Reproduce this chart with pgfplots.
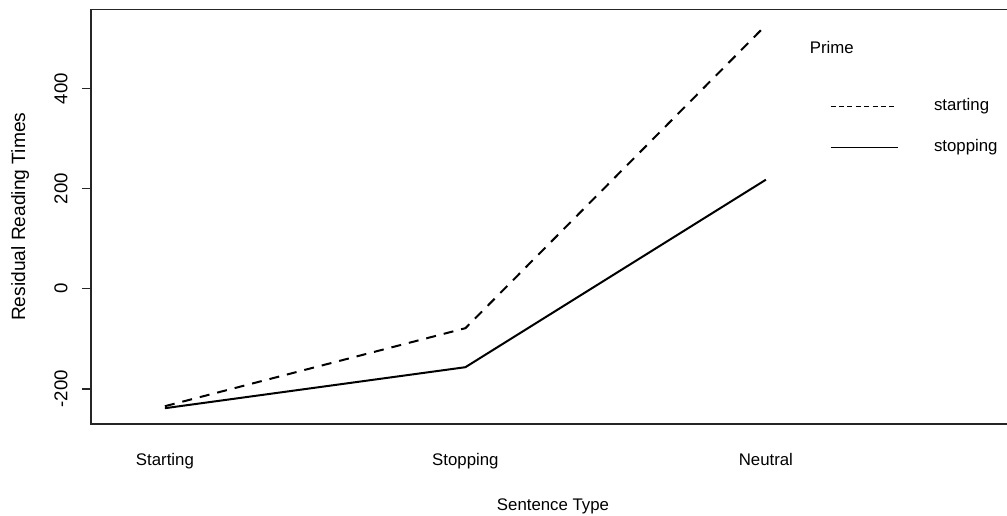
\documentclass[border=0pt]{standalone}
\usepackage{pgfplots}
\pgfplotsset{compat=1.18}
\usepackage{fontspec}
\setmainfont{Liberation Sans}
\begin{document}
\begin{tikzpicture}
\path[use as bounding box] (-45.5bp,-46bp) rectangle (458bp,212bp);
\begin{axis}[
  at={(0,0)}, anchor=south west,
  scale only axis, width=462bp, height=207.25bp,
  xmin=0.754, xmax=3.829, ymin=-270.6, ymax=558.4,
  axis line style={line width=0.8bp, black!85},
  xtick={1,2,3}, xticklabels={Starting,Stopping,Neutral},
  ytick={-200,0,200,400}, yticklabels={-200,0,200,400},
  tick align=outside,
  xtick pos=bottom, ytick pos=left,
  xtick style={draw=none},
  ytick style={line width=0.8bp, black!85},
  major tick length=4.25bp,
  xticklabel shift=16.25bp,
  yticklabel shift=7.5bp,
  xticklabel style={anchor=base, inner sep=0pt, font=\fontsize{8.4bp}{10bp}\selectfont},
  yticklabel style={rotate=90, anchor=base, inner sep=0pt, font=\fontsize{9.3bp}{11bp}\selectfont},
  xlabel={Sentence Type},
  xlabel style={at={(axis description cs:0.5,0)}, anchor=base, yshift=-43bp, inner sep=0pt, font=\fontsize{8.4bp}{10bp}\selectfont},
  ylabel={Residual Reading Times},
  ylabel style={at={(axis description cs:-0.07143,0.5)}, anchor=base, inner sep=0pt, font=\fontsize{9.6bp}{11bp}\selectfont},
  legend style={
    at={(axis description cs:0.7998,0.7846)}, anchor=north west,
    draw=none, fill=none, inner sep=0pt, outer sep=0pt,
    row sep=12.7bp,
    nodes={inner sep=0pt, text height=6bp, text depth=1.8bp},
    /tikz/every odd column/.append style={column sep=18bp},
    font=\fontsize{8.4bp}{10bp}\selectfont,
  },
  legend cell align=left,
  clip=false,
]
\addplot[black, line width=1bp, dash pattern=on 5bp off 4bp,
  legend image code/.code={\draw[black, line width=0.5bp, dash pattern=on 2.5bp off 1.7bp] (0bp,0bp) -- (33.5bp,0bp);}]
  coordinates {(1,-235) (2,-79) (3,527)};
\addlegendentry{starting}
\addplot[black, line width=1bp,
  legend image code/.code={\draw[black, line width=0.5bp] (0bp,0bp) -- (33.5bp,0bp);}]
  coordinates {(1,-239) (2,-157) (3,218)};
\addlegendentry{stopping}
\node[anchor=base west, inner sep=0pt, font=\fontsize{8.4bp}{10bp}\selectfont] at (axis description cs:0.7775,0.8946) {Prime};
\end{axis}
\end{tikzpicture}
\end{document}
